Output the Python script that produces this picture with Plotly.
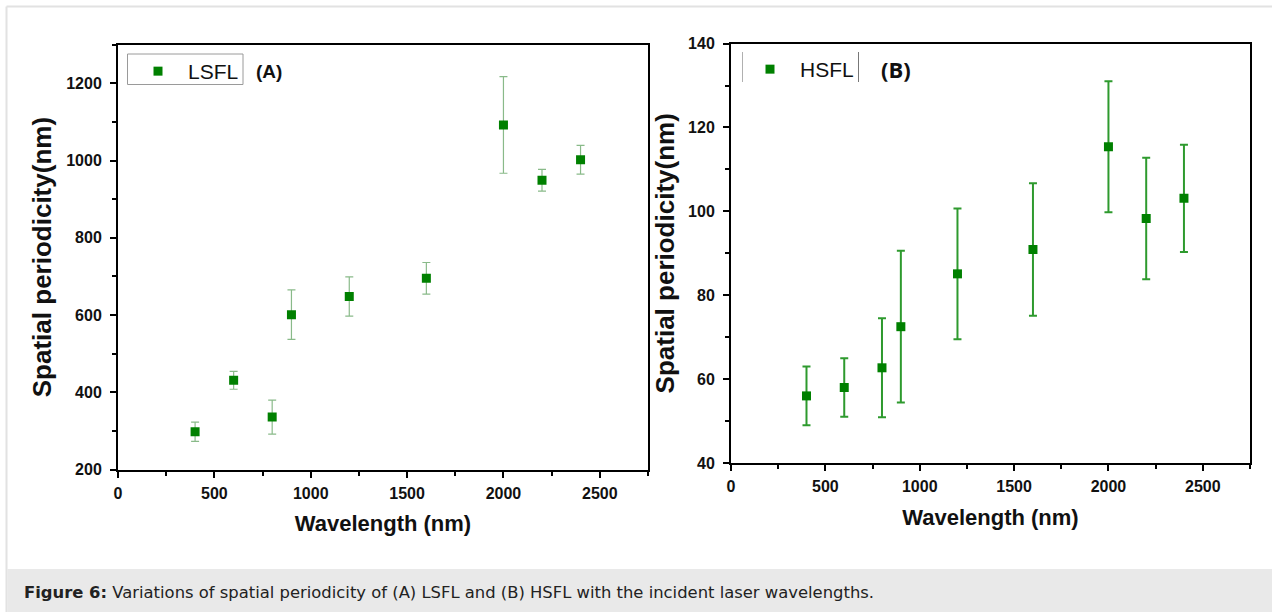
import plotly.graph_objects as go

W, H = 1272, 612

# ---- data ----
wavelength = [400, 600, 800, 900, 1200, 1600, 2000, 2200, 2400]
lsfl_period = [298, 431, 336, 601, 648, 695, 1092, 949, 1002]
lsfl_err = [25, 23, 44, 64, 51, 41, 125, 28, 37]
hsfl_period = [56.0, 58.0, 62.7, 72.5, 85.1, 90.9, 115.4, 98.3, 103.1]
hsfl_err = [7.0, 7.0, 11.8, 18.1, 15.6, 15.8, 15.6, 14.5, 12.8]

x_ticks = [0, 500, 1000, 1500, 2000, 2500]
lsfl_ticks = [200, 400, 600, 800, 1000, 1200]
hsfl_ticks = [40, 60, 80, 100, 120, 140]

GREEN = "#008000"
FONT = "Liberation Sans, Arial, sans-serif"


def px(x):
    return x / W


def py(y):
    return 1 - y / H


fig = go.Figure()

fig.add_trace(go.Scatter(
    x=wavelength, y=lsfl_period, mode="markers", name="LSFL",
    marker=dict(symbol="square", size=9, color=GREEN),
    error_y=dict(type="data", array=lsfl_err, visible=True,
                 color="rgba(40,130,40,0.55)", thickness=1.2, width=4),
    xaxis="x", yaxis="y", legend="legend",
))
fig.add_trace(go.Scatter(
    x=wavelength, y=hsfl_period, mode="markers", name="HSFL",
    marker=dict(symbol="square", size=9, color=GREEN),
    error_y=dict(type="data", array=hsfl_err, visible=True,
                 color="#2e9a2e", thickness=2, width=4),
    xaxis="x2", yaxis="y2", legend="legend2",
))

axis_common = dict(
    showline=True, linecolor="black", linewidth=2, mirror=True,
    ticks="outside", ticklen=6, tickwidth=2, tickcolor="black",
    showgrid=False, zeroline=False, automargin=False,
    tickfont=dict(family=FONT, size=16, color="#111", weight="bold"),
)
xtitle_font = dict(family=FONT, size=22, color="#111", weight="bold")
ytitle_font = dict(family=FONT, size=26, color="#111", weight="bold")

fig.update_layout(
    width=W, height=H,
    margin=dict(l=0, r=0, t=0, b=0, autoexpand=False),
    paper_bgcolor="white", plot_bgcolor="white",
    font=dict(family=FONT),
    xaxis=dict(domain=[px(118), px(648)], range=[0, 2750], tickvals=x_ticks,
               minor=dict(ticks="outside", ticklen=4, tickwidth=2, dtick=250, tick0=0),
               title=dict(text="Wavelength (nm)", font=xtitle_font, standoff=15),
               ticklabelstandoff=2, anchor="y", **axis_common),
    yaxis=dict(domain=[py(469.6), py(44.6)], range=[200, 1300], tickvals=lsfl_ticks,
               minor=dict(ticks="outside", ticklen=4, tickwidth=2, dtick=100, tick0=200),
               title=dict(text="Spatial periodicity(nm)", font=ytitle_font, standoff=7),
               ticklabelstandoff=5, anchor="x", **axis_common),
    xaxis2=dict(domain=[px(731), px(1250)], range=[0, 2750], tickvals=x_ticks,
                minor=dict(ticks="outside", ticklen=4, tickwidth=2, dtick=250, tick0=0),
                title=dict(text="Wavelength (nm)", font=xtitle_font, standoff=15),
                ticklabelstandoff=2, anchor="y2", **axis_common),
    yaxis2=dict(domain=[py(463), py(43.6)], range=[40, 140], tickvals=hsfl_ticks,
                minor=dict(ticks="outside", ticklen=4, tickwidth=2, dtick=10, tick0=40),
                title=dict(text="Spatial periodicity(nm)", font=ytitle_font, standoff=6),
                ticklabelstandoff=5, anchor="x2", **axis_common),
    legend=dict(x=px(128), y=py(51), xanchor="left", yanchor="top",
                bgcolor="rgba(0,0,0,0)", borderwidth=0, itemwidth=50,
                font=dict(family=FONT, size=21, color="#111")),
    legend2=dict(x=px(740), y=py(49), xanchor="left", yanchor="top",
                 bgcolor="rgba(0,0,0,0)", borderwidth=0, itemwidth=50,
                 font=dict(family=FONT, size=21, color="#111")),
    showlegend=True,
)

shapes = [
    # page frame
    dict(type="line", xref="paper", yref="paper", x0=px(6.5), x1=1, y0=py(6.5), y1=py(6.5),
         line=dict(color="#e2e2e2", width=2)),
    dict(type="line", xref="paper", yref="paper", x0=px(6.5), x1=px(6.5), y0=0, y1=py(6.5),
         line=dict(color="#e2e2e2", width=2)),
    # caption band
    dict(type="rect", xref="paper", yref="paper", x0=px(7.5), x1=1, y0=0, y1=py(569),
         fillcolor="#e9e9e9", line=dict(width=0), layer="below"),
    # legend A box
    dict(type="rect", xref="paper", yref="paper", x0=px(127.5), x1=px(243), y0=py(84.5), y1=py(54),
         line=dict(color="#9a9a9a", width=1)),
    # legend B side lines
    dict(type="line", xref="paper", yref="paper", x0=px(742.5), x1=px(742.5), y0=py(82), y1=py(52),
         line=dict(color="#b0b0b0", width=1)),
    dict(type="line", xref="paper", yref="paper", x0=px(858.5), x1=px(858.5), y0=py(82), y1=py(52),
         line=dict(color="#777777", width=1)),
]
fig.update_layout(shapes=shapes)

fig.add_annotation(xref="paper", yref="paper", x=px(269), y=py(71), xanchor="center", yanchor="middle",
                   text="<b>(A)</b>", showarrow=False, font=dict(family=FONT, size=19, color="#111"))
fig.add_annotation(xref="paper", yref="paper", x=px(896), y=py(69), xanchor="center", yanchor="middle",
                   text="<b>(B)</b>", showarrow=False, font=dict(family="Open Sans, " + FONT, size=22, color="#111"))
fig.add_annotation(xref="paper", yref="paper", x=px(22), y=py(592), xanchor="left", yanchor="middle",
                   text="<b>Figure 6:</b> Variations of spatial periodicity of (A) LSFL and (B) HSFL with the incident laser wavelengths.",
                   showarrow=False, font=dict(family="DejaVu Sans, " + FONT, size=16.4, color="#222"))

fig.write_html("out.html", config={"displayModeBar": False},
               post_script="document.body.style.margin='0';document.body.style.overflow='hidden';")
